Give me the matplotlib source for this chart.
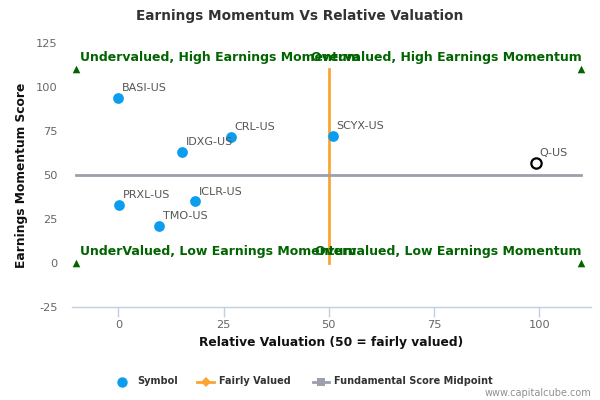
import matplotlib
matplotlib.use("Agg")
import matplotlib.pyplot as plt
from matplotlib.lines import Line2D

symbols = ["BASI-US", "CRL-US", "IDXG-US", "SCYX-US", "PRXL-US", "ICLR-US", "TMO-US"]
rel_val = [0.0, 26.8, 15.2, 51.0, 0.2, 18.2, 9.7]
momentum = [94.0, 71.6, 63.0, 72.2, 33.0, 35.0, 21.0]

focus_symbol = "Q-US"
focus_val = 99.3
focus_mom = 57.0

fair_x = [50, 50]
fair_y = [0, 110]
mid_x = [-10, 110]
mid_y = [50, 50]

corner_x = [-10, 110, -10, 110]
corner_y = [110, 110, 0, 0]
corner_labels = ["Undervalued, High Earnings Momentum", "Overvalued, High Earnings Momentum",
                 "UnderValued, Low Earnings Momentum", "Overvalued, Low Earnings Momentum"]

xticks = [0, 25, 50, 75, 100]
yticks = [-25, 0, 25, 50, 75, 100, 125]

legend_labels = ["Symbol", "Fairly Valued", "Fundamental Score Midpoint"]

fig = plt.figure(figsize=(6, 4), dpi=100)
ax = fig.add_axes([0.1195, 0.2325, 0.8655, 0.66])
ax.set_xlim(-11.1, 112.3)
ax.set_ylim(-25, 125)

blue = "#0D9DEF"
orange = "#F9A531"
gray = "#9C9FAD"
green = "#006400"

ax.plot(fair_x, fair_y, color=orange, lw=2, zorder=2)
ax.plot(mid_x, mid_y, color=gray, lw=2, zorder=2)

ax.scatter(rel_val, momentum, s=60, color=blue, zorder=4, linewidths=0)
for x, y, s in zip(rel_val, momentum, symbols):
    ax.annotate(s, (x, y), xytext=(2.5, 3.5), textcoords="offset points",
                fontsize=8, color="#555555", ha="left", va="bottom", zorder=5)
ax.scatter([focus_val], [focus_mom], s=55, facecolor="white", edgecolor="black",
           linewidths=1.6, zorder=4)
ax.annotate(focus_symbol, (focus_val, focus_mom), xytext=(2.5, 3.5), textcoords="offset points",
            fontsize=8, color="#555555", ha="left", va="bottom", zorder=5)

ax.scatter(corner_x, corner_y, marker="^", s=30, color=green, linewidths=0, zorder=3)
for x, y, lab in zip(corner_x, corner_y, corner_labels):
    if x < 50:
        ax.text(x + 0.9, y + 6.5, lab, ha="left", va="center", fontsize=9,
                fontweight="bold", color=green, zorder=5)
    else:
        ax.text(x, y + 6.5, lab, ha="right", va="center", fontsize=9,
                fontweight="bold", color=green, zorder=5)

ax.set_xticks(xticks)
ax.set_yticks(yticks)
ax.set_xticklabels([str(t) for t in xticks])
ax.set_yticklabels([str(t) for t in yticks])
for sp in ["top", "right", "left"]:
    ax.spines[sp].set_visible(False)
ax.spines["bottom"].set_color("#C0D0E0")
ax.spines["bottom"].set_linewidth(1)
ax.tick_params(axis="x", colors="#C0D0E0", length=7, width=1, labelcolor="#666666", labelsize=8.2, pad=2)
ax.tick_params(axis="y", length=0, labelcolor="#666666", labelsize=8.2, pad=10)

ax.set_xlabel("Relative Valuation (50 = fairly valued)", fontsize=8.8, fontweight="bold",
              color="#111111", labelpad=5)
ax.set_ylabel("Earnings Momentum Score", fontsize=8.8, fontweight="bold", color="#111111",
              labelpad=6)

fig.text(0.5, 0.96, "Earnings Momentum Vs Relative Valuation", ha="center", va="center",
         fontsize=9.8, fontweight="bold", color="#333333")

# legend drawn in figure coordinates
ly = 1 - 381.5 / 400
W = 600.0
fig.add_artist(Line2D([122 / W], [ly], marker="o", linestyle="none", color=blue, markersize=7.5,
                      markeredgewidth=0, transform=fig.transFigure))
fig.add_artist(Line2D([197 / W, 214 / W], [ly, ly], color=orange, lw=2, transform=fig.transFigure))
fig.add_artist(Line2D([205.5 / W], [ly], marker="D", color=orange, markersize=5, markeredgewidth=0,
                      transform=fig.transFigure))
fig.add_artist(Line2D([313 / W, 329 / W], [ly, ly], color=gray, lw=2, transform=fig.transFigure))
fig.add_artist(Line2D([321 / W], [ly], marker="s", color=gray, markersize=5.5, markeredgewidth=0,
                      transform=fig.transFigure))
for xp, lab in zip([137, 219, 334], legend_labels):
    fig.text(xp / W, ly, lab, ha="left", va="center", fontsize=7, fontweight="bold", color="#333333")

fig.text(0.985, 0.017, "www.capitalcube.com", ha="right", va="center", fontsize=7, color="#909090")

fig.savefig("out.png", dpi=100)
